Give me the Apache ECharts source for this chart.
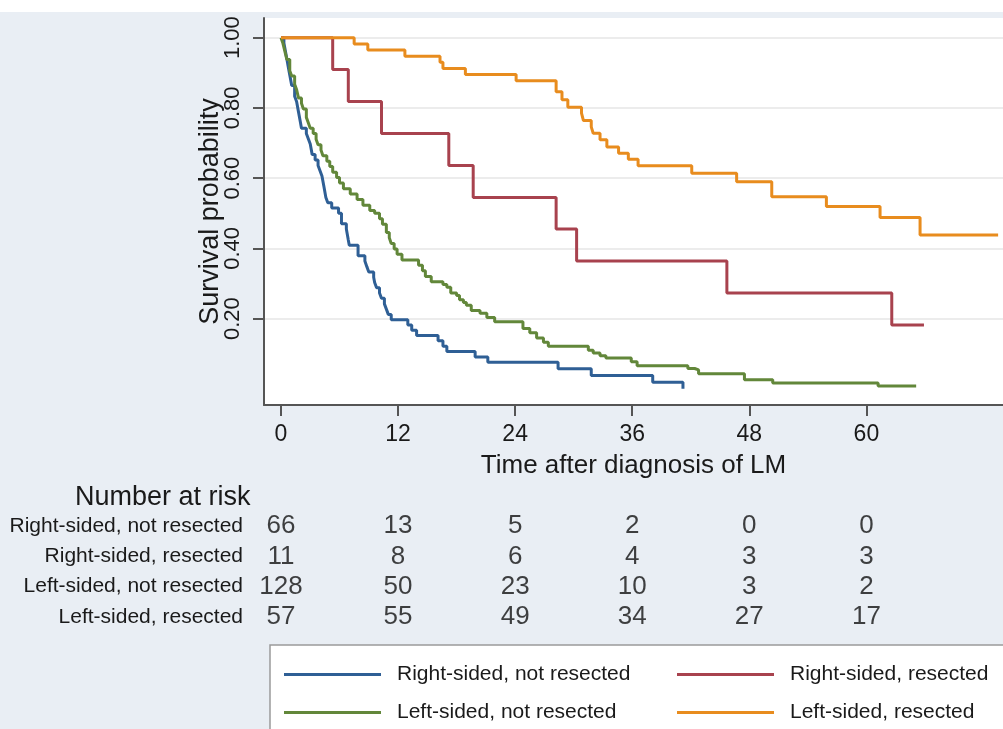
<!DOCTYPE html>
<html>
<head>
<meta charset="utf-8">
<script src="https://cdn.jsdelivr.net/npm/echarts@6/dist/echarts.min.js"></script>
<style>
  html, body { margin: 0; padding: 0; background: #e9eef4; }
  #chart { width: 1003px; height: 729px; }
</style>
</head>
<body>
<div id="chart"></div>
<script>
// Kaplan-Meier steps [months, survival]
const rightNotResected = [
  [0, 1], [0.3, 0.985], [0.5, 0.955], [0.7, 0.924], [0.9, 0.894], [1.1, 0.864], [1.4, 0.833],
  [1.6, 0.818], [1.8, 0.788], [2.0, 0.758], [2.1, 0.742], [2.6, 0.727], [2.8, 0.712], [3.0, 0.697],
  [3.2, 0.667], [3.5, 0.652], [3.8, 0.636], [4.0, 0.621], [4.2, 0.606], [4.4, 0.576], [4.6, 0.545],
  [4.8, 0.53], [5.2, 0.515], [5.9, 0.5], [6.2, 0.47], [6.7, 0.455], [6.9, 0.424], [7.0, 0.409],
  [7.9, 0.379], [8.6, 0.364], [8.8, 0.348], [9.0, 0.333], [9.5, 0.318], [9.6, 0.303], [9.8, 0.288],
  [10.1, 0.273], [10.3, 0.258], [10.6, 0.242], [10.8, 0.227], [11.0, 0.212], [11.3, 0.197],
  [13.0, 0.182], [13.4, 0.167], [13.9, 0.152], [16.1, 0.137], [16.6, 0.121], [17.0, 0.106],
  [19.9, 0.091], [21.2, 0.076], [28.4, 0.057], [31.8, 0.038], [38.1, 0.019], [41.2, 0.0]
];
const rightResected = [
  [0, 1], [5.3, 0.909], [6.9, 0.818], [10.3, 0.727], [17.2, 0.636], [19.7, 0.545],
  [28.2, 0.455], [30.3, 0.364], [45.7, 0.273], [62.6, 0.182], [65.9, 0.182]
];
const leftNotResected = [
  [0, 1], [0.2, 0.984], [0.4, 0.961], [0.6, 0.938], [0.9, 0.906], [1.1, 0.891], [1.4, 0.867],
  [1.6, 0.852], [1.8, 0.828], [2.1, 0.813], [2.3, 0.797], [2.6, 0.773], [2.8, 0.758], [3.0, 0.742],
  [3.3, 0.727], [3.6, 0.711], [3.8, 0.695], [4.1, 0.68], [4.3, 0.664], [4.7, 0.648], [5.0, 0.633],
  [5.3, 0.617], [5.7, 0.602], [6.0, 0.586], [6.4, 0.57], [7.1, 0.555], [7.8, 0.539], [8.4, 0.523],
  [9.1, 0.508], [9.6, 0.5], [10.1, 0.484], [10.4, 0.469], [10.8, 0.445], [11.1, 0.43], [11.3, 0.414],
  [11.6, 0.398], [11.9, 0.383], [12.4, 0.367], [14.1, 0.352], [14.5, 0.336], [14.8, 0.32],
  [15.4, 0.305], [16.6, 0.297], [17.0, 0.289], [17.4, 0.273], [18.0, 0.266], [18.3, 0.254],
  [18.7, 0.246], [19.0, 0.238], [19.5, 0.223], [20.4, 0.215], [21.1, 0.203], [21.9, 0.191],
  [24.8, 0.172], [25.5, 0.16], [26.2, 0.145], [26.9, 0.133], [27.4, 0.121], [31.5, 0.11],
  [32.0, 0.102], [32.7, 0.094], [33.3, 0.088], [35.9, 0.077], [36.5, 0.066], [41.7, 0.058],
  [42.4, 0.054], [42.8, 0.043], [47.5, 0.026], [50.4, 0.017], [61.2, 0.008], [65.1, 0.008]
];
const leftResected = [
  [0, 1], [7.5, 0.982], [8.9, 0.965], [12.7, 0.947], [16.3, 0.93], [16.6, 0.912], [18.9, 0.895],
  [24.1, 0.877], [28.2, 0.846], [28.8, 0.823], [29.4, 0.802], [30.8, 0.785], [31.0, 0.764],
  [31.8, 0.746], [32.0, 0.728], [32.7, 0.709], [33.4, 0.689], [34.6, 0.671], [35.6, 0.654],
  [36.6, 0.635], [42.1, 0.614], [46.7, 0.59], [50.3, 0.547], [55.9, 0.519], [61.4, 0.488],
  [65.5, 0.438], [73.5, 0.438]
];

const seriesNames = [
  "Right-sided, not resected",
  "Right-sided, resected",
  "Left-sided, not resected",
  "Left-sided, resected"
];
const seriesColors = ["#2f5f95", "#a8424e", "#62873a", "#e88c1e"];

// number at risk table
const riskTimes = [0, 12, 24, 36, 48, 60];
const riskRightNotResected = [66, 13, 5, 2, 0, 0];
const riskRightResected = [11, 8, 6, 4, 3, 3];
const riskLeftNotResected = [128, 50, 23, 10, 3, 2];
const riskLeftResected = [57, 55, 49, 34, 27, 17];

const xTicks = [0, 12, 24, 36, 48, 60];
const yTicks = [0.2, 0.4, 0.6, 0.8, 1.0];

const FONT = "'Liberation Sans', Arial, Helvetica, sans-serif";
const X_MIN = -1.74, X_MAX = 74;

const chart = echarts.init(document.getElementById("chart"));

const curves = [rightNotResected, rightResected, leftNotResected, leftResected];
const riskRows = [riskRightNotResected, riskRightResected, riskLeftNotResected, riskLeftResected];

const riskData = [];
riskRows.forEach((row, r) => {
  row.forEach((n, i) => riskData.push([riskTimes[i], seriesNames[r], n]));
});

// one legend per entry so the two columns line up like the original key
const legendSpots = [[284, 664], [677, 664], [284, 702], [677, 702]];
const legends = seriesNames.map((name, i) => ({
  left: legendSpots[i][0],
  top: legendSpots[i][1],
  padding: 0,
  itemWidth: 97,
  itemHeight: 3,
  icon: "rect",
  selectedMode: false,
  data: [name],
  textStyle: { fontFamily: FONT, fontSize: 21, color: "#1a1a1a", padding: [0, 0, 0, 11] }
}));

const option = {
  backgroundColor: "#e9eef4",
  animation: false,
  textStyle: { fontFamily: FONT },
  title: {
    text: "Number at risk",
    left: 70,
    top: 479,
    textStyle: { fontFamily: FONT, fontSize: 27, fontWeight: "normal", color: "#1a1a1a" }
  },
  graphic: [
    { type: "rect", shape: { x: 0, y: 0, width: 1003, height: 12 }, style: { fill: "#ffffff" }, z: -1 },
    {
      type: "rect",
      shape: { x: 270, y: 645, width: 760, height: 100 },
      style: { fill: "#ffffff", stroke: "#9a9a9a", lineWidth: 1.5 },
      z: 0
    }
  ],
  legend: legends,
  grid: [
    { left: 264, right: 0, top: 18, bottom: 324, show: true, backgroundColor: "#ffffff", borderWidth: 0 },
    { left: 264, right: 0, top: 511, height: 121 }
  ],
  xAxis: [
    {
      type: "value",
      gridIndex: 0,
      min: X_MIN,
      max: X_MAX,
      name: "Time after diagnosis of LM",
      nameLocation: "middle",
      nameGap: 48,
      nameMoveOverlap: false,
      nameTextStyle: { fontFamily: FONT, fontSize: 26, color: "#1a1a1a" },
      axisLine: { show: true, onZero: false, lineStyle: { color: "#555", width: 2 } },
      axisTick: { show: true, length: 11, lineStyle: { color: "#555", width: 2 }, customValues: xTicks },
      axisLabel: { fontFamily: FONT, fontSize: 23, color: "#1a1a1a", margin: 18, customValues: xTicks },
      splitLine: { show: false }
    },
    {
      type: "value",
      gridIndex: 1,
      min: X_MIN,
      max: X_MAX,
      show: false
    }
  ],
  yAxis: [
    {
      type: "value",
      gridIndex: 0,
      min: -0.046,
      max: 1.056,
      name: "Survival probability",
      nameLocation: "middle",
      nameRotate: 90,
      nameGap: 40,
      nameMoveOverlap: false,
      nameTextStyle: { fontFamily: FONT, fontSize: 27, color: "#1a1a1a" },
      axisLine: { show: true, onZero: false, lineStyle: { color: "#555", width: 2 } },
      axisTick: { show: true, length: 11, lineStyle: { color: "#555", width: 2 }, customValues: yTicks },
      axisLabel: {
        fontFamily: FONT,
        fontSize: 22,
        color: "#1a1a1a",
        rotate: 90,
        margin: 20,
        customValues: yTicks,
        formatter: (v) => v.toFixed(2)
      },
      splitLine: { show: true, lineStyle: { color: "#ececec", width: 2 } }
    },
    {
      type: "category",
      gridIndex: 1,
      data: seriesNames,
      inverse: true,
      axisLine: { show: false },
      axisTick: { show: false },
      splitLine: { show: false },
      axisLabel: { fontFamily: FONT, fontSize: 21, color: "#1a1a1a", margin: 21 }
    }
  ],
  series: curves.map((d, i) => ({
    name: seriesNames[i],
    type: "line",
    xAxisIndex: 0,
    yAxisIndex: 0,
    step: "end",
    showSymbol: false,
    symbol: "none",
    data: d,
    color: seriesColors[i],
    lineStyle: { width: 3, color: seriesColors[i] }
  })).concat([
    {
      name: "risk",
      type: "scatter",
      xAxisIndex: 1,
      yAxisIndex: 1,
      symbolSize: 0,
      data: riskData,
      label: {
        show: true,
        position: "inside",
        formatter: (p) => String(p.value[2]),
        fontFamily: FONT,
        fontSize: 26,
        color: "#111"
      }
    }
  ])
};

chart.setOption(option);
</script>
</body>
</html>
